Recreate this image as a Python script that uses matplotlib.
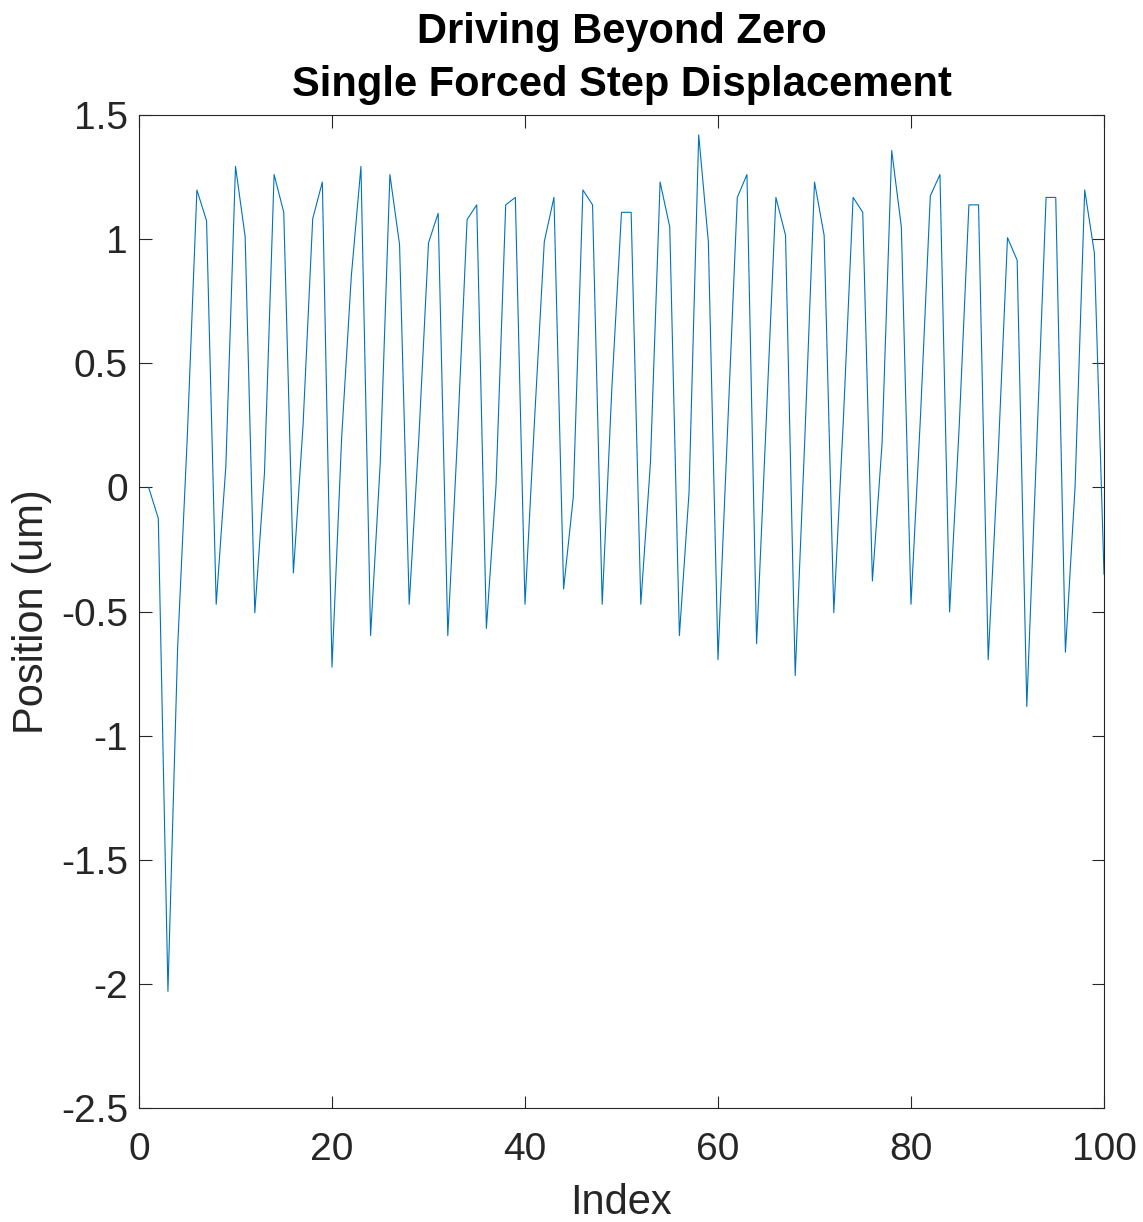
import numpy as np
import matplotlib
matplotlib.use('Agg')
import matplotlib.pyplot as plt
from matplotlib.ticker import FuncFormatter

plt.rcParams['font.family'] = ['Liberation Sans', 'DejaVu Sans']
plt.rcParams['axes.unicode_minus'] = False

# position, index 1..100
index = np.arange(1, 101)
position = [
    0.0, -0.125, -2.03, -0.65, 0.2, 1.198, 1.074, -0.471, 0.086, 1.293,
    1.010, -0.505, 0.056, 1.260, 1.108, -0.345, 0.25, 1.082, 1.230, -0.724,
    0.2, 0.85, 1.293, -0.597, 0.1, 1.260, 0.978, -0.471, 0.2, 0.985,
    1.104, -0.597, 0.2, 1.079, 1.138, -0.568, 0.01, 1.138, 1.168, -0.471,
    0.28, 0.99, 1.168, -0.409, -0.04, 1.198, 1.138, -0.471, 0.4, 1.108,
    1.108, -0.471, 0.10, 1.230, 1.049, -0.597, -0.02, 1.420, 0.99, -0.694,
    0.24, 1.168, 1.260, -0.63, 0.27, 1.168, 1.015, -0.758, 0.2, 1.230,
    1.015, -0.505, 0.28, 1.168, 1.108, -0.377, 0.175, 1.357, 1.049, -0.471,
    0.3, 1.174, 1.26, -0.502, 0.25, 1.138, 1.138, -0.694, 0.1, 1.006,
    0.915, -0.883, 0.14, 1.168, 1.168, -0.664, 0.0, 1.198, 0.945, -0.35,
]

xticks = [0, 20, 40, 60, 80, 100]
yticks = [-2.5, -2, -1.5, -1, -0.5, 0, 0.5, 1, 1.5]

fig = plt.figure(figsize=(11.43, 12.22), dpi=100)
ax = fig.add_axes([139/1143, 1 - 1108/1222, (1104-139)/1143, (1108-115)/1222])

ax.plot(index, position, color='#0072BD', lw=0.8)

ax.set_xlim(0, 100)
ax.set_ylim(-2.5, 1.5)
ax.set_xticks(xticks)
ax.set_yticks(yticks)
ax.yaxis.set_major_formatter(FuncFormatter(lambda v, p: '%g' % v))

txt = '#262626'
for s in ax.spines.values():
    s.set_color('#262626')
    s.set_linewidth(0.8)
ax.tick_params(direction='in', length=9, width=0.8, top=True, right=True,
               labelsize=28, colors=txt, pad=8)
ax.tick_params(axis='x', pad=17)

ax.set_xlabel('Index', fontsize=30, color=txt, labelpad=11)
ax.set_ylabel('Position (um)', fontsize=30, color=txt, labelpad=6)
ax.set_title('Driving Beyond Zero\nSingle Forced Step Displacement',
             fontsize=30, fontweight='bold', color='black', pad=14,
             linespacing=1.4)

fig.savefig('out.png', dpi=100)
